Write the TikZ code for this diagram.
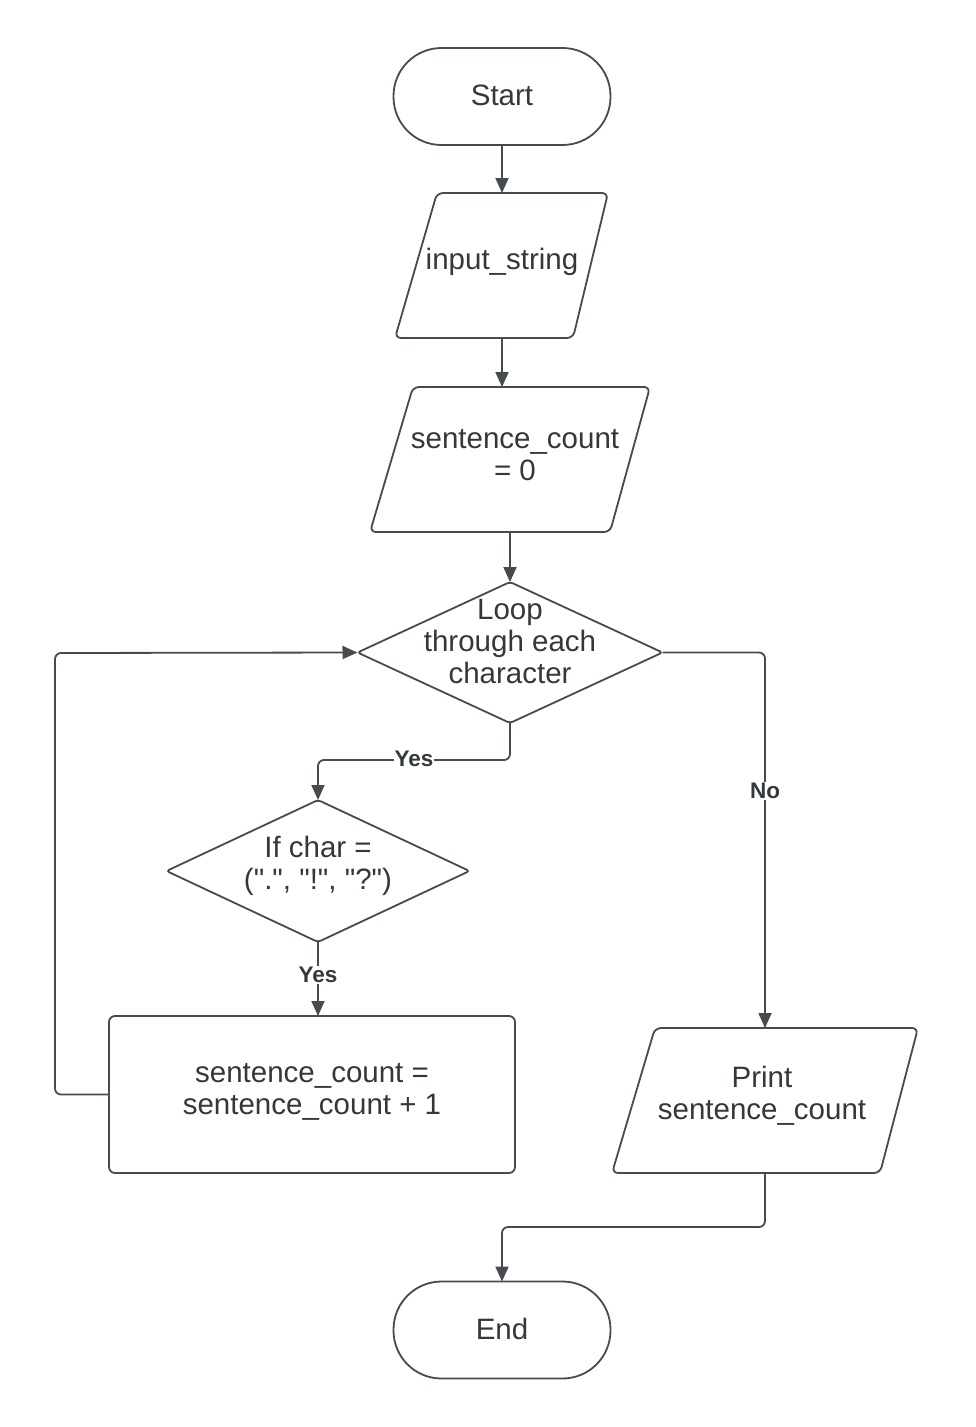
\documentclass[tikz,border=0pt]{standalone}
\usepackage{fontspec}
\setmainfont{Liberation Sans}
\usetikzlibrary{arrows.meta,shapes.geometric}
\definecolor{linec}{HTML}{464B50}
\definecolor{textc}{HTML}{33383C}
\newcommand{\qq}{\textquotedbl}
\begin{document}
\begin{tikzpicture}[x=1pt,y=-1pt,
  every node/.style={text=textc, font=\fontsize{29.5}{32}\selectfont, align=center, inner sep=0pt, outer sep=0pt},
  shapeline/.style={draw=linec, line width=1.8pt},
  term/.style={shapeline, rectangle, rounded corners=48pt, minimum width=217pt, minimum height=97pt},
  procbox/.style={shapeline, rectangle, rounded corners=6pt, minimum width=406pt, minimum height=157pt},
  decision/.style={shapeline, diamond, rounded corners=3pt},
  para/.style={shapeline, rounded corners=6pt},
  conn/.style={draw=linec, line width=1.8pt, rounded corners=6pt, -{Triangle[length=15pt,width=13pt]}},
  lbl/.style={fill=white, inner sep=1pt, font=\fontsize{22.5}{26}\selectfont\bfseries}
]
\useasboundingbox[fill=white] (0,0) rectangle (975,1427);

% Start / End
\node[term] (start) at (502,96.5) {\raisebox{3pt}{Start}};
\node[term] (end) at (502,1330) {\raisebox{3pt}{End}};

% input_string parallelogram
\draw[para] (437,193) -- (608,193) -- (573,338) -- (395,338) -- cycle;
\coordinate (inT) at (502,193);
\coordinate (inB) at (502,338);
\node (inp) at (502,262) {input\_string};

% sentence_count = 0 parallelogram
\draw[para] (413,387) -- (650,387) -- (610,532) -- (370,532) -- cycle;
\coordinate (scT) at (502,387);
\coordinate (scB) at (510,532);
\node (sc) at (515,455) {sentence\_count\\= 0};

% Loop diamond
\node[decision, minimum width=305pt, minimum height=141pt] (loop) at (510,652.5) {};
\node (looptxt) at (510,641) {Loop\\through each\\character};

% If diamond
\node[decision, minimum width=303pt, minimum height=142pt] (ifc) at (318,871) {};
\node (iftxt) at (318,866) {If char =\\(\qq.\qq, \qq!\qq, \qq?\qq)};

% process box
\node[procbox] (inc) at (312,1094.5) {};
\node (inctxt) at (312,1092) {sentence\_count =\\sentence\_count + 1};

% Print parallelogram
\draw[para] (655,1028) -- (918,1028) -- (880,1173) -- (612,1173) -- cycle;
\coordinate (prT) at (765,1028);
\coordinate (prB) at (765,1173);
\node (pr) at (762,1096) {Print\\sentence\_count};

% connectors
\draw[conn] (start.south) -- (start.south |- inT);
\draw[conn] (inB) -- (scT);
\draw[conn] (scB) -- (scB |- loop.north);
\draw[conn] (loop.south) |- (318,760) -- (ifc.north);
\node[lbl] (yes1) at (414,759) {Yes};
\draw[conn] (loop.east) -| (prT);
\node[lbl] (no) at (765,791) {No};
\draw[conn] (ifc.south) -- (ifc.south |- inc.north);
\node[lbl] (yes2) at (318,975) {Yes};
\coordinate (lpL) at (55,653);
\draw[conn] (inc.west) -| (lpL) -- (loop.west);
\draw[conn] (prB) |- (502,1227) -- (end.north);
\end{tikzpicture}
\end{document}
